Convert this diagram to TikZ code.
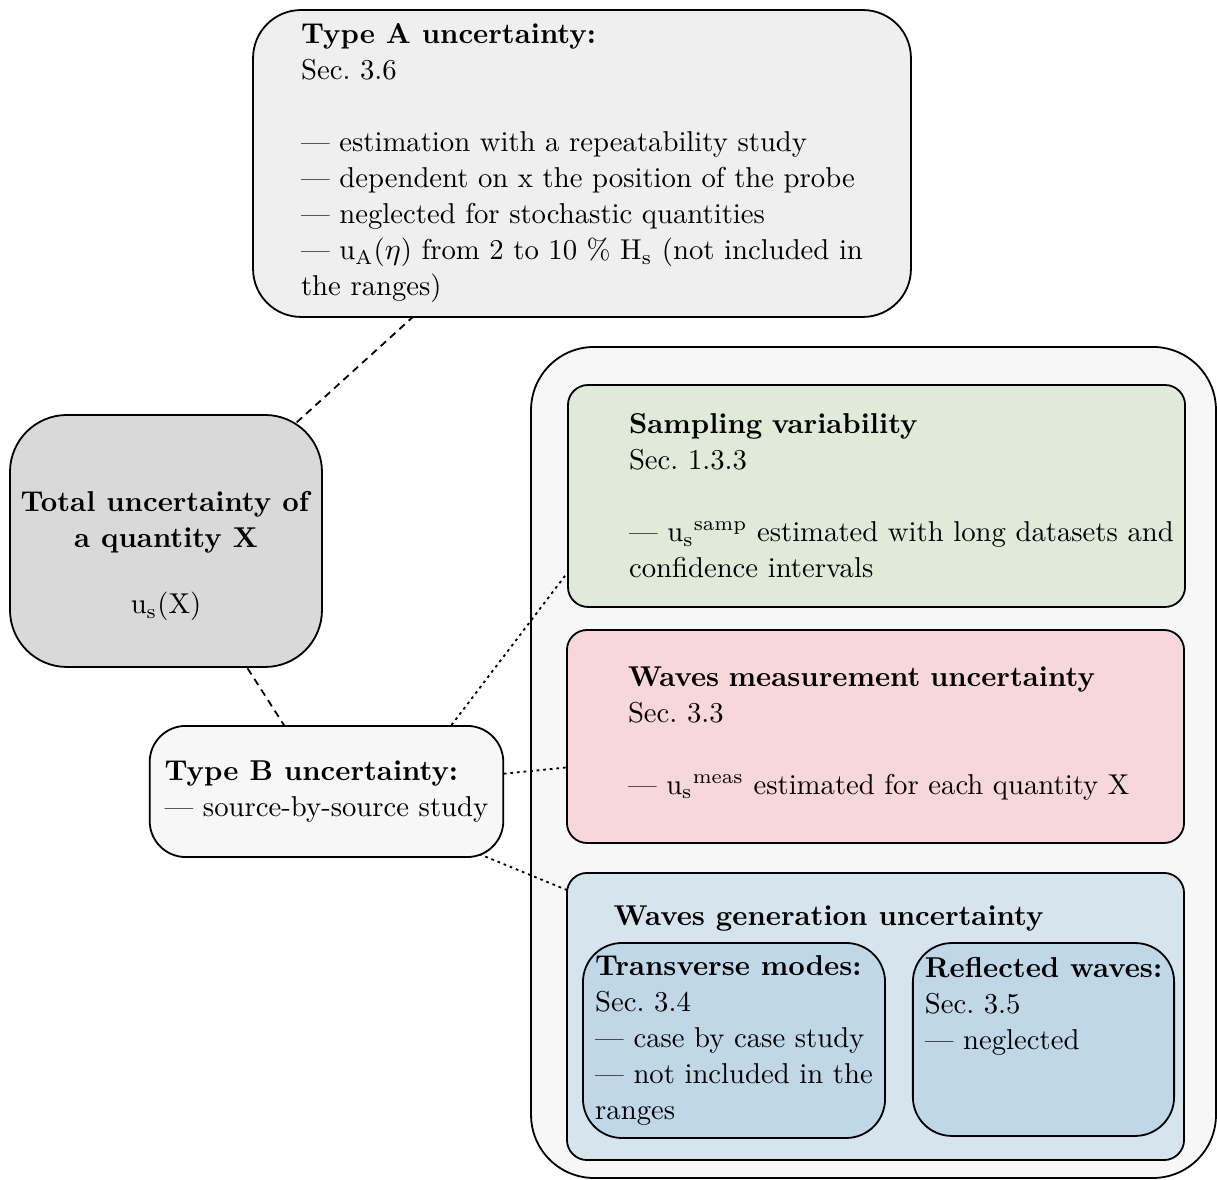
\documentclass[tikz,border=0pt]{standalone}
\usetikzlibrary{positioning}
\pgfdeclarelayer{back}
\pgfdeclarelayer{links}
\pgfsetlayers{back,links,main}
\definecolor{afill}{HTML}{EFEFEF}
\definecolor{totalfill}{HTML}{D9D9D9}
\definecolor{bfill}{HTML}{F7F7F7}
\definecolor{sampfill}{HTML}{E0EAD8}
\definecolor{measfill}{HTML}{F8D7DA}
\definecolor{genfill}{HTML}{D6E4EE}
\definecolor{subfill}{HTML}{C0D7E7}
\begin{document}
\fontsize{9.57pt}{12pt}\selectfont
\begin{tikzpicture}[
    x=1pt,y=1pt,
    card/.style={draw,line width=0.6pt,align=left},
    source/.style={card,rounded corners=6.7pt,text width=165pt,inner xsep=20pt,minimum width=205.7pt},
    sub/.style={card,fill=subfill,rounded corners=13pt,inner xsep=4pt},
    strong/.style={line width=0.6pt,dash pattern=on 2.4pt off 1.8pt},
    weak/.style={line width=0.6pt,dash pattern=on 0.9pt off 1.3pt}
]
\useasboundingbox (0,0) rectangle (405.67,393.33);

\begin{pgfonlayer}{back}
\node[card,fill=bfill,rounded corners=21pt,minimum width=228.3pt,minimum height=277pt] (sources) at (291.17,139.17) {};
\end{pgfonlayer}

\node[card,fill=afill,rounded corners=16pt,minimum width=219.3pt,minimum height=102.3pt] (typeA) at (194.0,338.83)
    {\textbf{Type A uncertainty:}\\Sec.~3.6\\[12pt]--- estimation with a repeatability study\\--- dependent on x the position of the probe\\--- neglected for stochastic quantities\\--- u\textsubscript{A}(\(\eta\)) from 2 to 10~\% H\textsubscript{s} (not included in\\the ranges)};
\node[card,fill=totalfill,align=center,rounded corners=19pt,minimum width=104pt,minimum height=84pt] (total) at (55.33,213.0)
    {\rule{0pt}{17pt}\textbf{Total uncertainty of}\\\textbf{a quantity X}\\[10pt]u\textsubscript{s}(X)};
\node[card,fill=bfill,rounded corners=12pt,inner xsep=5pt,minimum width=116.3pt,minimum height=43.7pt] (typeB) at (108.83,129.5)
    {\textbf{Type B uncertainty:}\\--- source-by-source study};

\node[source,fill=sampfill,minimum height=74pt] (sampling) at (292.17,228.0)
    {\textbf{Sampling variability}\\Sec.~1.3.3\\[12pt]\mbox{--- u\textsubscript{s}\textsuperscript{samp} estimated with long datasets and}\\confidence intervals};
\node[source,fill=measfill,minimum height=71pt] (meas) at (291.83,147.83)
    {\textbf{Waves measurement uncertainty}\\Sec.~3.3\\[12pt]\mbox{--- u\textsubscript{s}\textsuperscript{meas} estimated for each quantity X}\\[-8pt]\mbox{}};
\node[card,fill=genfill,rounded corners=6.7pt,minimum width=205.7pt,minimum height=95.7pt] (gen) at (291.83,54.5) {};
\node[inner sep=0pt,below right=11pt and 15.7pt of gen.north west] (gentitle) {\textbf{Waves generation uncertainty}};
\node[sub,minimum width=100.7pt,minimum height=65pt] (trans) at (244.67,46.5)
    {\textbf{Transverse modes:}\\Sec.~3.4\\--- case by case study\\--- not included in the\\ranges};
\node[sub,minimum width=87pt,minimum height=64.3pt] (refl) at (347.83,46.83)
    {\textbf{Reflected waves:}\\Sec.~3.5\\--- neglected\\[12pt]\mbox{}};

\begin{pgfonlayer}{links}
\draw[strong] (typeA.center) -- (total.center);
\draw[strong] (total.center) -- (typeB.center);
\draw[weak] (typeB.28.3) -- (sampling.194.4);
\draw[weak] (typeB.center) -- (meas.center);
\draw[weak] (typeB.center) -- (gen.center);
\end{pgfonlayer}
\end{tikzpicture}
\end{document}
